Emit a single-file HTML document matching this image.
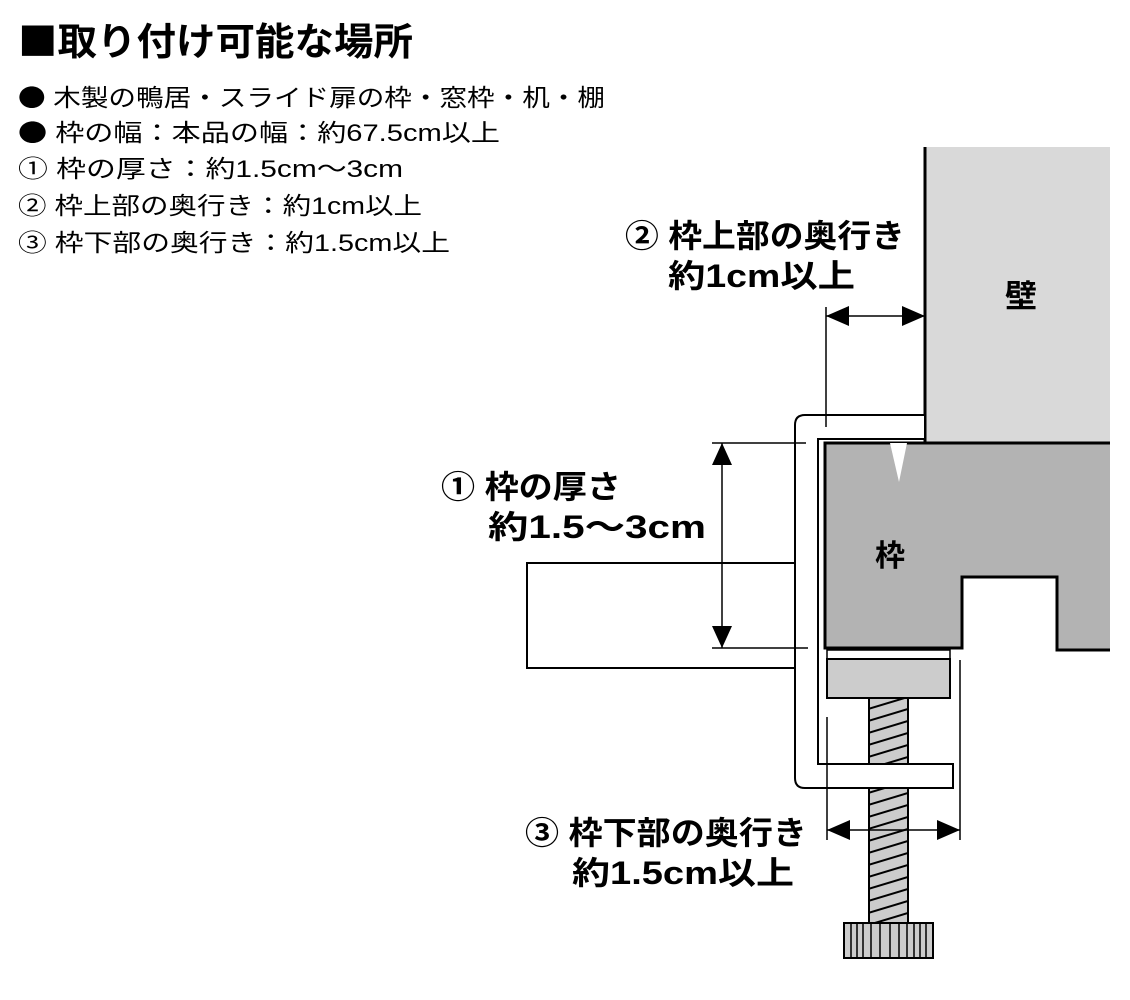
<!DOCTYPE html>
<html><head><meta charset="utf-8"><style>
html,body{margin:0;padding:0;background:#fff;}
svg{display:block;}
text{font-family:"Liberation Sans","Noto Sans CJK JP",sans-serif;fill:#000;}
.b{font-weight:bold;}
.cj{font-family:"Noto Sans CJK JP",sans-serif;}
</style></head><body>
<svg width="1130" height="1000" viewBox="0 0 1130 1000" xmlns="http://www.w3.org/2000/svg">
<defs>
<pattern id="th" width="40" height="12" patternUnits="userSpaceOnUse" patternTransform="translate(868,700)">
<rect width="40" height="12" fill="#cccccc"/>
<line x1="0" y1="9" x2="40" y2="-3" stroke="#000" stroke-width="2"/>
<line x1="0" y1="21" x2="40" y2="9" stroke="#000" stroke-width="2"/>
</pattern>
</defs>
<!-- text -->
<text x="18" y="55" font-size="38" class="b" textLength="395" lengthAdjust="spacingAndGlyphs"><tspan class="cj">■</tspan>取り付け可能な場所</text>
<text x="18" y="106" font-size="24" textLength="587" lengthAdjust="spacingAndGlyphs"><tspan class="cj">●</tspan> 木製の鴨居・スライド扉の枠・窓枠・机・棚</text>
<text x="18" y="141" font-size="24" textLength="482" lengthAdjust="spacingAndGlyphs"><tspan class="cj">●</tspan> 枠の幅：本品の幅：約67.5cm以上</text>
<text x="18" y="177" font-size="24" textLength="385" lengthAdjust="spacingAndGlyphs">① 枠の厚さ：約1.5cm〜3cm</text>
<text x="18" y="214" font-size="24" textLength="404" lengthAdjust="spacingAndGlyphs">② 枠上部の奥行き：約1cm以上</text>
<text x="18" y="251" font-size="24" textLength="432" lengthAdjust="spacingAndGlyphs">③ 枠下部の奥行き：約1.5cm以上</text>

<text x="625" y="247" font-size="32" class="b" textLength="280" lengthAdjust="spacingAndGlyphs">② 枠上部の奥行き</text>
<text x="668" y="287" font-size="32" class="b" textLength="187" lengthAdjust="spacingAndGlyphs">約1cm以上</text>
<text x="441" y="498" font-size="32" class="b" textLength="180" lengthAdjust="spacingAndGlyphs">① 枠の厚さ</text>
<text x="488" y="538" font-size="32" class="b" textLength="218" lengthAdjust="spacingAndGlyphs">約1.5〜3cm</text>
<text x="525" y="844" font-size="32" class="b" textLength="282" lengthAdjust="spacingAndGlyphs">③ 枠下部の奥行き</text>
<text x="572" y="884" font-size="32" class="b" textLength="222" lengthAdjust="spacingAndGlyphs">約1.5cm以上</text>

<!-- wall -->
<rect x="925" y="147" width="185" height="296" fill="#d9d9d9"/>
<line x1="925" y1="147" x2="925" y2="443" stroke="#000" stroke-width="3"/>
<text x="1005" y="307" font-size="32" class="b">壁</text>

<!-- handle bar -->
<rect x="527" y="563" width="268" height="105" fill="#fff" stroke="#000" stroke-width="2"/>

<!-- bracket -->
<path d="M925,415 L805,415 Q795,415 795,425 L795,778 Q795,788 805,788 L953,788 L953,764 L818,764 L818,439 L925,439 Z" fill="#fff" stroke="#000" stroke-width="2"/>

<!-- frame -->
<path d="M825,443 L1110,443 L1110,650 L1057,650 L1057,577 L962,577 L962,648 L825,648 Z" fill="#b3b3b3"/>
<path d="M1110,443 L825,443 L825,648 L962,648 L962,577 L1057,577 L1057,650 L1110,650" fill="none" stroke="#000" stroke-width="3"/>
<polygon points="890,443 907,443 899,482" fill="#fff"/>
<text x="875" y="566" font-size="30" class="b">枠</text>

<!-- pad -->
<rect x="827" y="650" width="123" height="9" fill="#fff" stroke="#000" stroke-width="1.5"/>
<rect x="827" y="659" width="123" height="39" fill="#cccccc" stroke="#000" stroke-width="2"/>

<!-- screw -->
<rect x="869" y="698" width="39" height="66" fill="url(#th)" stroke="#000" stroke-width="2"/>
<rect x="869" y="788" width="39" height="135" fill="url(#th)" stroke="#000" stroke-width="2"/>
<rect x="844" y="923" width="89" height="35" fill="#cccccc" stroke="#000" stroke-width="2"/>
<g stroke="#000" stroke-width="1.5">
<line x1="851" y1="923" x2="851" y2="958"/><line x1="857" y1="923" x2="857" y2="958"/><line x1="863" y1="923" x2="863" y2="958"/><line x1="871" y1="923" x2="871" y2="958"/><line x1="880" y1="923" x2="880" y2="958"/><line x1="890" y1="923" x2="890" y2="958"/><line x1="899" y1="923" x2="899" y2="958"/><line x1="907" y1="923" x2="907" y2="958"/><line x1="914" y1="923" x2="914" y2="958"/><line x1="920" y1="923" x2="920" y2="958"/><line x1="926" y1="923" x2="926" y2="958"/>
</g>

<!-- dimension lines -->
<g stroke="#000" stroke-width="1.5" fill="none">
<line x1="826" y1="307" x2="826" y2="427"/>
<line x1="826" y1="316" x2="925" y2="316"/>
<line x1="712" y1="443" x2="806" y2="443"/>
<line x1="712" y1="648" x2="808" y2="648"/>
<line x1="722" y1="443" x2="722" y2="648"/>
<line x1="827" y1="717" x2="827" y2="840"/>
<line x1="960" y1="660" x2="960" y2="840"/>
<line x1="827" y1="830" x2="960" y2="830"/>
</g>
<g fill="#000">
<polygon points="826,316 849,306 849,326"/>
<polygon points="925,316 902,306 902,326"/>
<polygon points="722,443 712,465 732,465"/>
<polygon points="722,648 712,626 732,626"/>
<polygon points="827,830 850,820 850,840"/>
<polygon points="960,830 937,820 937,840"/>
</g>
</svg>
</body></html>
